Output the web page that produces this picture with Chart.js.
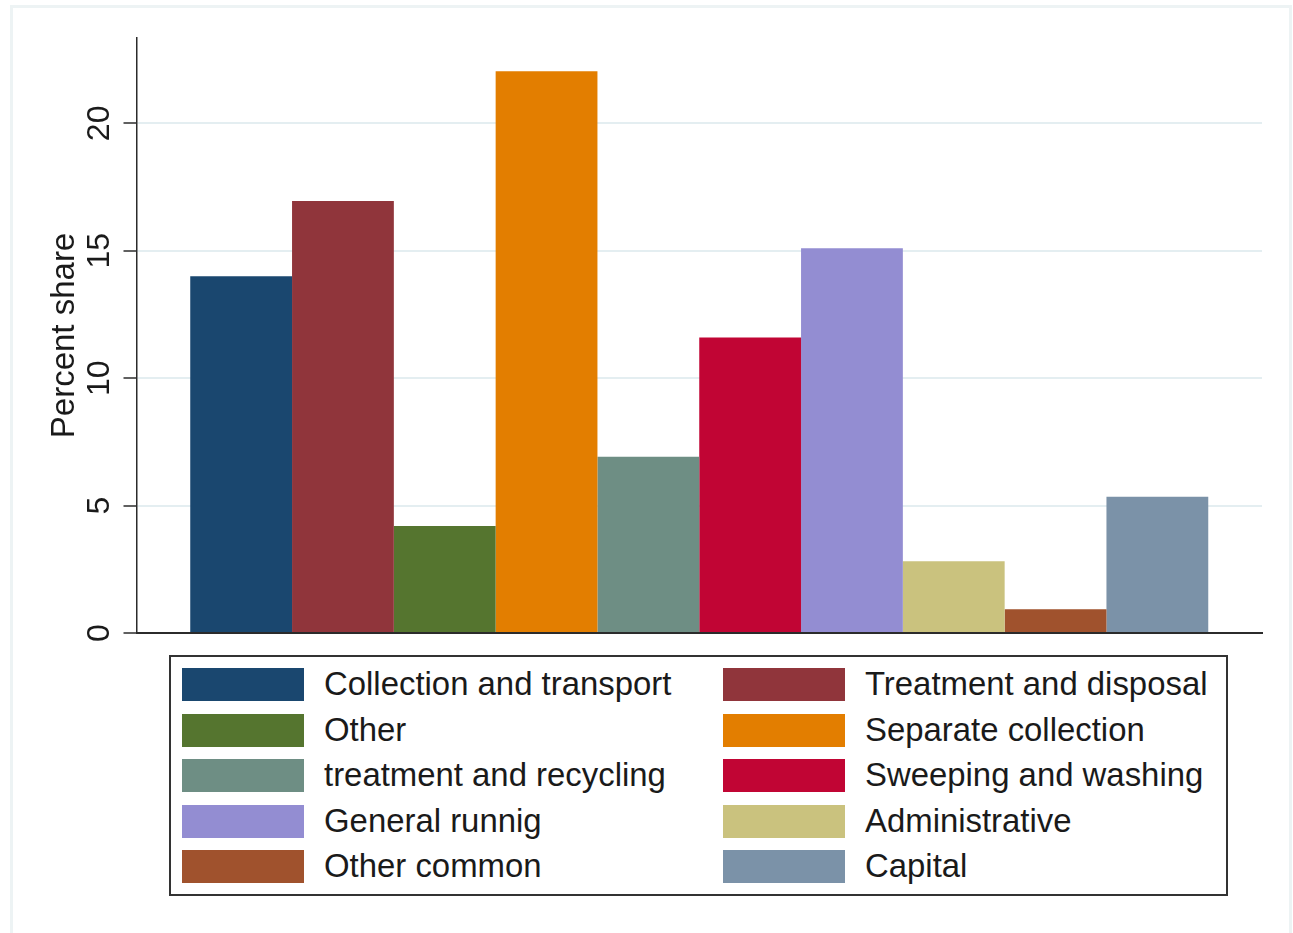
<!DOCTYPE html>
<html>
<head>
<meta charset="utf-8">
<script src="https://cdn.jsdelivr.net/npm/chart.js@4.4.1/dist/chart.umd.min.js"></script>
<style>
  html, body { margin: 0; padding: 0; background: #ffffff; }
  body { width: 1293px; height: 933px; position: relative; overflow: hidden;
         font-family: "Liberation Sans", Arial, sans-serif; }
  #frame { position: absolute; left: 10px; top: 5px; width: 1282px; height: 960px;
           border: 3px solid #edf3f4; box-sizing: border-box; }
  #wrap { position: absolute; left: 0; top: 0; width: 1293px; height: 663px; }
  #legend { position: absolute; left: 169px; top: 655px; width: 1059px; height: 241px;
            border: 2px solid #333333; box-sizing: border-box; background: #ffffff;
            padding: 5px 0 0 11px; display: grid;
            grid-template-columns: 541px 1fr; grid-auto-rows: 45.5px; }
  .item { display: flex; align-items: center; }
  .sw { width: 122px; height: 33px; margin-right: 20px; flex: none; }
  .lt { font-size: 32.9px; color: #1a1a1a; white-space: nowrap; line-height: 1; }
</style>
</head>
<body>
<div id="frame"></div>
<div id="wrap"><canvas id="c"></canvas></div>
<div id="legend"></div>
<script>
const categories = [
  'Collection and transport', 'Treatment and disposal', 'Other', 'Separate collection',
  'treatment and recycling', 'Sweeping and washing', 'General runnig', 'Administrative',
  'Other common', 'Capital'
];
const shares = [14.0, 16.95, 4.2, 22.05, 6.92, 11.6, 15.1, 2.82, 0.93, 5.35];
const colors = ['#1a476f', '#90353b', '#55752f', '#e37e00', '#6e8e84',
                '#c10534', '#938dd2', '#cac27e', '#a0522d', '#7b92a8'];
const yTicks = [0, 5, 10, 15, 20];
const yTitle = 'Percent share';

const FONT = '"Liberation Sans", Arial, sans-serif';

const datasets = categories.map((c, i) => ({
  label: c,
  data: [shares[i]],
  backgroundColor: colors[i],
  borderWidth: 0,
  categoryPercentage: 0.9045,
  barPercentage: 1.0
}));

const chart = new Chart(document.getElementById('c'), {
  type: 'bar',
  data: { labels: [''], datasets },
  options: {
    responsive: true,
    maintainAspectRatio: false,
    animation: false,
    layout: { padding: { left: 0, right: 31, top: 38, bottom: 30 } },
    plugins: { legend: { display: false }, tooltip: { enabled: false } },
    scales: {
      x: {
        ticks: { display: false },
        grid: { display: true, color: 'transparent', drawTicks: false },
        border: { display: true, color: '#2b2b2b', width: 2, z: 1 },
        afterFit: s => { s.height = 0; }
      },
      y: {
        min: 0,
        max: 23.35,
        afterBuildTicks: s => { s.ticks = yTicks.map(v => ({ value: v })); },
        ticks: {
          minRotation: 90, maxRotation: 90,
          crossAlign: 'center',
          padding: 6,
          color: '#1a1a1a',
          font: { family: FONT, size: 32 },
          includeBounds: false
        },
        grid: {
          color: ctx => (ctx.tick && ctx.tick.value === 0) ? 'transparent' : '#e4eef1',
          lineWidth: 2,
          tickColor: '#2b2b2b',
          tickWidth: 1.5,
          tickLength: 13
        },
        border: { display: true, color: '#2b2b2b', width: 1.5, z: 1 },
        title: {
          display: true,
          text: yTitle,
          color: '#1a1a1a',
          font: { family: FONT, size: 33 },
          padding: { top: 45, bottom: 0 }
        },
        afterFit: s => { s.width = 136.5; }
      }
    }
  }
});

// HTML legend built from the chart's datasets
const legend = document.getElementById('legend');
chart.data.datasets.forEach(ds => {
  const item = document.createElement('div');
  item.className = 'item';
  const sw = document.createElement('div');
  sw.className = 'sw';
  sw.style.background = ds.backgroundColor;
  const lt = document.createElement('span');
  lt.className = 'lt';
  lt.textContent = ds.label;
  item.appendChild(sw);
  item.appendChild(lt);
  legend.appendChild(item);
});
</script>
</body>
</html>
